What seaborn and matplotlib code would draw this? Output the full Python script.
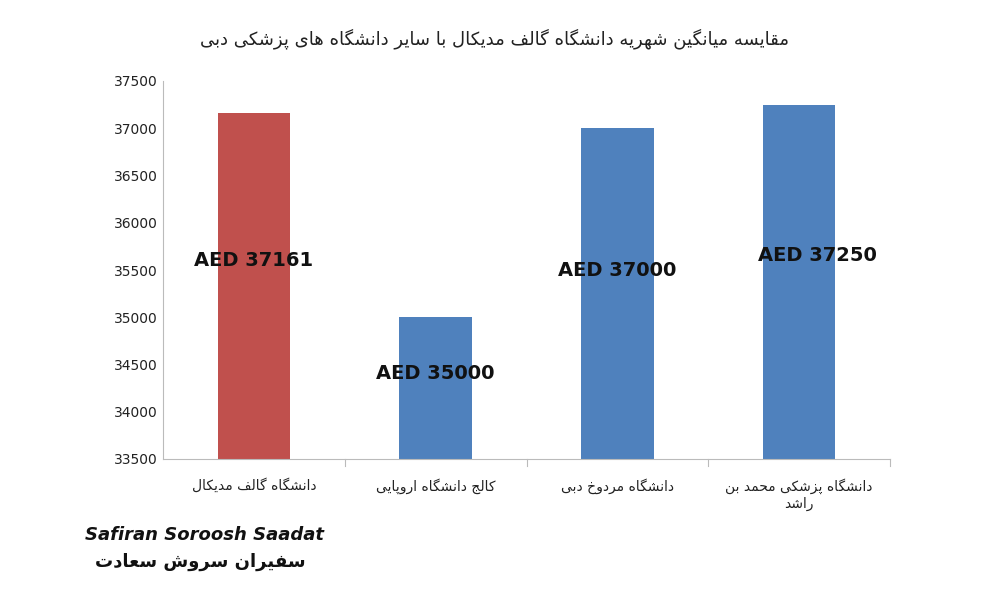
import matplotlib
matplotlib.use("Agg")
import matplotlib.pyplot as plt
import seaborn as sns
import pandas as pd

# ---- data ----
categories = ["دانشگاه گالف مدیکال", "کالج دانشگاه اروپایی", "دانشگاه مردوخ دبی", "دانشگاه پزشکی محمد بن\nراشد"]
values = [37161, 35000, 37000, 37250]
labels = ["AED 37161", "AED 35000", "AED 37000", "AED 37250"]
label_y = [35600, 34400, 35500, 35650]
title = "مقایسه میانگین شهریه دانشگاه گالف مدیکال با سایر دانشگاه های پزشکی دبی"
yticks = list(range(33500, 37501, 500))

# ---- minimal Arabic/Persian shaping ----
F = {  # iso, fin, ini, med
 'ا':(0xFE8D,0xFE8E,None,None),'ب':(0xFE8F,0xFE90,0xFE91,0xFE92),'پ':(0xFB56,0xFB57,0xFB58,0xFB59),
 'ت':(0xFE95,0xFE96,0xFE97,0xFE98),'ج':(0xFE9D,0xFE9E,0xFE9F,0xFEA0),'ح':(0xFEA1,0xFEA2,0xFEA3,0xFEA4),
 'خ':(0xFEA5,0xFEA6,0xFEA7,0xFEA8),'د':(0xFEA9,0xFEAA,None,None),'ر':(0xFEAD,0xFEAE,None,None),
 'ز':(0xFEAF,0xFEB0,None,None),'ژ':(0xFB8A,0xFB8B,None,None),'س':(0xFEB1,0xFEB2,0xFEB3,0xFEB4),
 'ش':(0xFEB5,0xFEB6,0xFEB7,0xFEB8),'ع':(0xFEC9,0xFECA,0xFECB,0xFECC),'ف':(0xFED1,0xFED2,0xFED3,0xFED4),
 'ق':(0xFED5,0xFED6,0xFED7,0xFED8),'ک':(0xFB8E,0xFB8F,0xFB90,0xFB91),'گ':(0xFB92,0xFB93,0xFB94,0xFB95),
 'ل':(0xFEDD,0xFEDE,0xFEDF,0xFEE0),'م':(0xFEE1,0xFEE2,0xFEE3,0xFEE4),'ن':(0xFEE5,0xFEE6,0xFEE7,0xFEE8),
 'ه':(0xFEE9,0xFEEA,0xFEEB,0xFEEC),'و':(0xFEED,0xFEEE,None,None),'ی':(0xFBFC,0xFBFD,0xFBFE,0xFBFF),
}
def shape_line(s):
    out = []
    for i, c in enumerate(s):
        if c not in F:
            out.append(c); continue
        p = s[i-1] if i > 0 else ''
        n = s[i+1] if i+1 < len(s) else ''
        jp = p in F and F[p][2] is not None
        jn = n in F and F[c][2] is not None
        iso, fin, ini, med = F[c]
        if jp and jn: ch = med
        elif jp: ch = fin
        elif jn: ch = ini
        else: ch = iso
        out.append(chr(ch))
    return ''.join(out)[::-1]
def shape(s):
    return "\n".join(shape_line(l) for l in s.split("\n"))

df = pd.DataFrame({"cat": [shape(c) for c in categories], "val": values})
colors = ["#C0504D", "#4F81BD", "#4F81BD", "#4F81BD"]

fig = plt.figure(figsize=(10, 6), dpi=100)
ax = fig.add_axes([0.163, 0.235, 0.727, 0.63])
sns.barplot(data=df, x="cat", y="val", hue="cat", palette=colors, legend=False, width=0.4, ax=ax, saturation=1)
ax.set_xlim(-0.5, 3.5)
ax.set_ylim(33500, 37500)
ax.set_yticks(yticks)
ax.set_xlabel(""); ax.set_ylabel("")
ax.tick_params(axis="y", length=0, labelsize=10, colors="#222222")
ax.tick_params(axis="x", length=0, labelsize=10, colors="#222222", pad=14)
for s in ["top", "right"]:
    ax.spines[s].set_visible(False)
for s in ["left", "bottom"]:
    ax.spines[s].set_color("#BBBBBB")
for i in range(1, len(categories) + 1):
    ax.plot([i-0.5, i-0.5], [33500, 33430], color="#BBBBBB", lw=0.8, clip_on=False)
label_dx = [0, 0, 0, 0.1]
for i, (t, y) in enumerate(zip(labels, label_y)):
    ax.text(i + label_dx[i], y, t, ha="center", va="center", fontsize=14, fontweight="bold", color="#111111")
fig.text(0.495, 0.935, shape(title), ha="center", va="center", fontsize=13, color="#222222", family="DejaVu Sans")
fig.text(0.085, 0.10, "Safiran Soroosh Saadat", fontsize=13, fontweight="bold", fontstyle="italic", color="#111111")
fig.text(0.095, 0.055, shape("سفیران سروش سعادت"), fontsize=13, fontweight="bold", color="#111111")
fig.savefig("out.png", dpi=100)
